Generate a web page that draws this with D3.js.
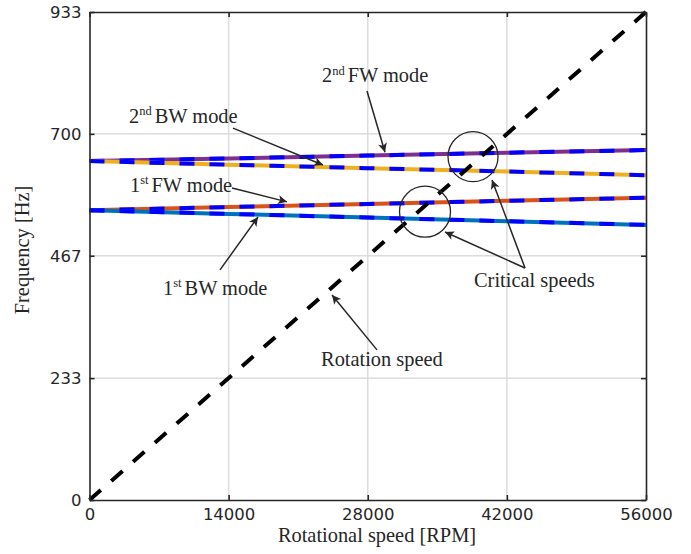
<!DOCTYPE html>
<html>
<head>
<meta charset="utf-8">
<script src="https://cdn.jsdelivr.net/npm/d3@7"></script>
<style>
  body { margin: 0; background: #fff; }
  svg { display: block; }
  .tick text { font-family: "DejaVu Sans", sans-serif; font-size: 16.5px; fill: #262626; }
  .lbl { font-family: "Liberation Serif", "Times New Roman", serif; font-size: 20.4px; fill: #262626; }
</style>
</head>
<body>
<svg id="chart"></svg>
<script>
var rpm = [0, 14000, 28000, 42000, 56000];
var fw2 = [648, 653, 658.5, 664, 669];
var bw2 = [648, 641, 634.5, 628, 621];
var fw1 = [554, 560, 566, 572, 578];
var bw1 = [554, 547, 540, 533, 526];
var rotRpm = [0, 56000];
var rotHz = [0, 933];
var xTicks = [0, 14000, 28000, 42000, 56000];
var yTicks = [0, 233, 467, 700, 933];

var width = 691, height = 554;
var margin = {"top": 12, "right": 45, "bottom": 54, "left": 89.5};

var svg = d3.select("#chart")
  .attr("width", width)
  .attr("height", height);

var x = d3.scaleLinear().domain([0, 56000]).range([margin.left, width - margin.right]);
var y = d3.scaleLinear().domain([0, 933]).range([height - margin.bottom, margin.top]);

var ink = "#262626";

// grid
svg.append("g").selectAll("line")
  .data(xTicks.slice(1, -1))
  .enter().append("line")
  .attr("x1", function(d) { return x(d); }).attr("x2", function(d) { return x(d); })
  .attr("y1", y(0)).attr("y2", y(933))
  .attr("stroke", "#dcdcdc").attr("stroke-width", 1.5);
svg.append("g").selectAll("line")
  .data(yTicks.slice(1, -1))
  .enter().append("line")
  .attr("y1", function(d) { return y(d); }).attr("y2", function(d) { return y(d); })
  .attr("x1", x(0)).attr("x2", x(56000))
  .attr("stroke", "#dcdcdc").attr("stroke-width", 1.5);

// curves: solid colour under a blue dashed copy
var modes = [
  {vals: fw2, color: "#7E2F8E"},
  {vals: bw2, color: "#EDB120"},
  {vals: fw1, color: "#D95319"},
  {vals: bw1, color: "#0072BD"}
];
var line = d3.line()
  .x(function(d, i) { return x(rpm[i]); })
  .y(function(d) { return y(d); });

modes.forEach(function(m) {
  svg.append("path")
    .datum(m.vals)
    .attr("d", line)
    .attr("fill", "none")
    .attr("stroke", m.color)
    .attr("stroke-width", 4);
  svg.append("path")
    .datum(m.vals)
    .attr("d", line)
    .attr("fill", "none")
    .attr("stroke", "#0000ff")
    .attr("stroke-width", 4)
    .attr("stroke-dasharray", "15,15");
});

var rotLine = d3.line()
  .x(function(d, i) { return x(rotRpm[i]); })
  .y(function(d) { return y(d); });
svg.append("path")
  .datum(rotHz)
  .attr("d", rotLine)
  .attr("fill", "none")
  .attr("stroke", "#000")
  .attr("stroke-width", 4)
  .attr("stroke-dasharray", "15,14");

// axes, box with inward ticks
var tickOpts = function(a) { return a.tickSizeInner(-5).tickSizeOuter(0).tickPadding(8); };
var gx = svg.append("g")
  .attr("transform", "translate(0," + y(0) + ")")
  .call(tickOpts(d3.axisBottom(x).tickValues(xTicks).tickFormat(d3.format("d"))));
var gy = svg.append("g")
  .attr("transform", "translate(" + x(0) + ",0)")
  .call(tickOpts(d3.axisLeft(y).tickValues(yTicks)));
var gxt = svg.append("g")
  .attr("transform", "translate(0," + y(933) + ")")
  .call(d3.axisTop(x).tickValues(xTicks).tickSizeInner(-5).tickSizeOuter(0).tickFormat(""));
var gyr = svg.append("g")
  .attr("transform", "translate(" + x(56000) + ",0)")
  .call(d3.axisRight(y).tickValues(yTicks).tickSizeInner(-5).tickSizeOuter(0).tickFormat(""));
[gx, gy, gxt, gyr].forEach(function(g) {
  g.select(".domain").attr("stroke", ink).attr("stroke-width", 1.6);
  g.selectAll(".tick line").attr("stroke", ink).attr("stroke-width", 1.6);
});
gx.selectAll(".tick text").attr("dy", "0.71em");

svg.append("text")
  .attr("class", "lbl")
  .attr("x", 377)
  .attr("y", 542)
  .attr("text-anchor", "middle")
  .text("Rotational speed [RPM]");
svg.append("text")
  .attr("class", "lbl")
  .attr("transform", "translate(29," + 250 + ") rotate(-90)")
  .attr("text-anchor", "middle")
  .text("Frequency [Hz]");

// annotations
var defs = svg.append("defs");
defs.append("marker")
  .attr("id", "head")
  .attr("viewBox", "0 0 10 10")
  .attr("refX", 10).attr("refY", 5)
  .attr("markerUnits", "userSpaceOnUse")
  .attr("markerWidth", 11).attr("markerHeight", 9)
  .attr("orient", "auto")
  .append("path")
  .attr("d", "M0,0 L10,5 L0,10 L2.5,5 Z")
  .attr("fill", ink);

var labels = [
  {ord: "2", sup: "nd", rest: "FW mode", at: [23396, 799]},
  {ord: "2", sup: "nd", rest: "BW mode", at: [3975, 721]},
  {ord: "1", sup: "st", rest: "FW mode", at: [4075, 589]},
  {ord: "1", sup: "st", rest: "BW mode", at: [7396, 392]},
  {ord: "", sup: "", rest: "Rotation speed", at: [23300, 256]},
  {ord: "", sup: "", rest: "Critical speeds", at: [38692, 407]}
];
var arrows = [
  [[27925, 782], [29736, 665]],
  [[14440, 711], [23497, 640.5]],
  [[14340, 596.5], [19874, 570]],
  [[13132, 440], [16956, 541]],
  [[28931, 287], [24403, 392]],
  [[43824, 443.6], [35774, 512.4]],
  [[43824, 443.6], [40504, 611.8]]
];
var circles = [
  {at: [38592, 656.4], r: 25},
  {at: [33761, 551.2], r: 25.5}
];

labels.forEach(function(l) {
  var t = svg.append("text")
    .attr("class", "lbl")
    .attr("x", x(l.at[0]))
    .attr("y", y(l.at[1]));
  if (l.ord) {
    t.append("tspan").text(l.ord);
    t.append("tspan").attr("dy", -7.5).attr("font-size", "12.5px").text(l.sup);
    t.append("tspan").attr("dy", 7.5).attr("dx", 3).text(l.rest);
  } else {
    t.text(l.rest);
  }
});

svg.append("g").selectAll("line")
  .data(arrows)
  .enter().append("line")
  .attr("x1", function(d) { return x(d[0][0]); })
  .attr("y1", function(d) { return y(d[0][1]); })
  .attr("x2", function(d) { return x(d[1][0]); })
  .attr("y2", function(d) { return y(d[1][1]); })
  .attr("stroke", ink)
  .attr("stroke-width", 1.5)
  .attr("marker-end", "url(#head)");

svg.append("g").selectAll("circle")
  .data(circles)
  .enter().append("circle")
  .attr("cx", function(d) { return x(d.at[0]); })
  .attr("cy", function(d) { return y(d.at[1]); })
  .attr("r", function(d) { return d.r; })
  .attr("fill", "none")
  .attr("stroke", ink)
  .attr("stroke-width", 1.3);
</script>
</body>
</html>
